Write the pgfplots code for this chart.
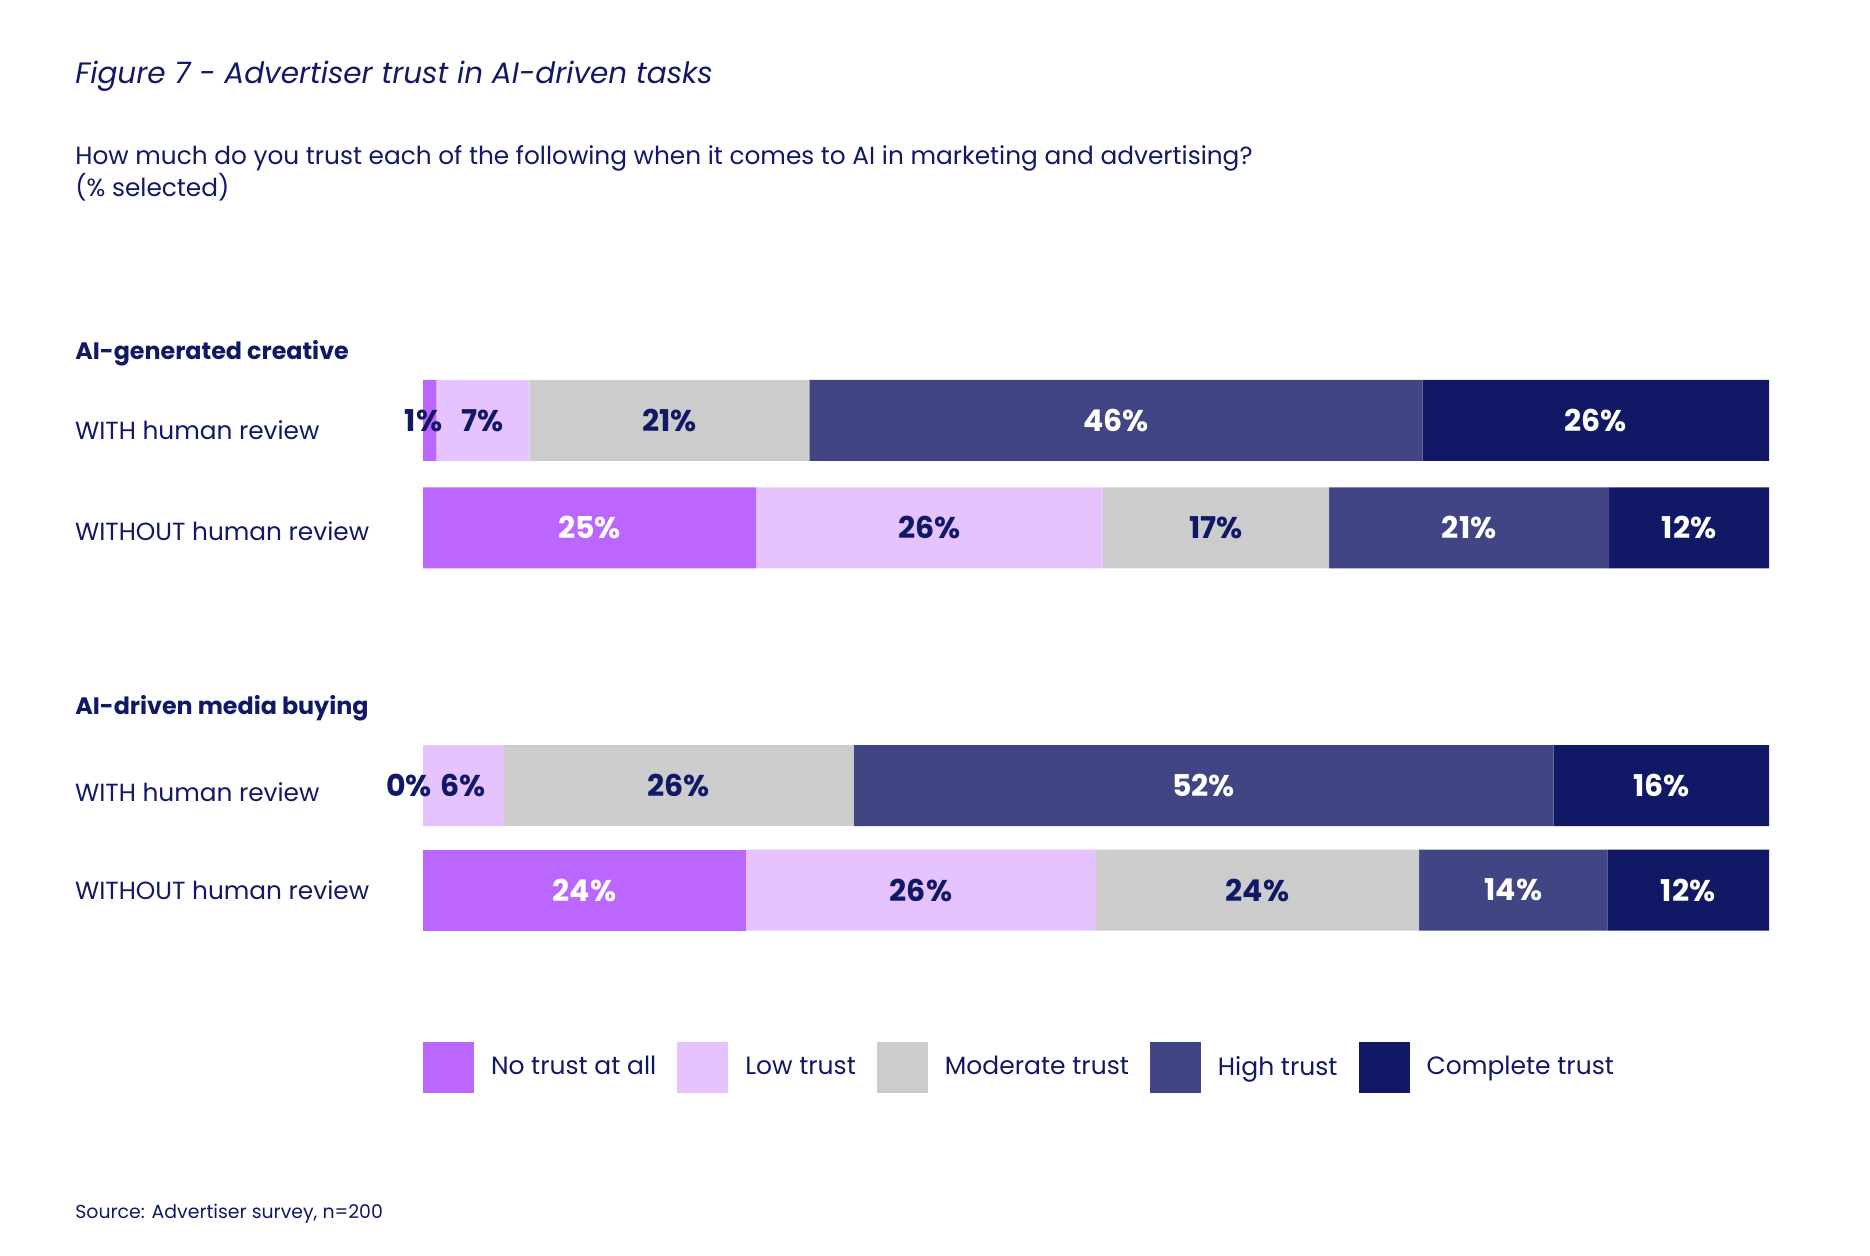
\documentclass[border=0pt]{standalone}
\usepackage{pgfplots}
\pgfplotsset{compat=1.18}
\usepackage{pgfplotstable}
\usepackage{fontspec}
\setmainfont{Poppins}

\definecolor{navy}{HTML}{111866}
\definecolor{notrust}{HTML}{BB66FF}
\definecolor{lowtrust}{HTML}{E6C3FF}
\definecolor{modtrust}{HTML}{CCCCCC}
\definecolor{hightrust}{HTML}{414583}
\definecolor{fulltrust}{HTML}{111866}

\newcommand{\bodyfont}{\fontsize{12.4}{16}\selectfont}

% share of respondents (%) per trust level
\pgfplotstableread{
row none low moderate high complete
0   1    7   21       46   26
1   25   26  17       21   12
}\creative
\pgfplotstableread{
row none low moderate high complete
0   0    6   26       52   16
1   24   26  24       14   12
}\media

% common frame of one group; #1 = row total (right end of the bars)
\pgfplotsset{
  trustframe/.style={
    scale only axis, width=673pt,
    xmin=0, xmax=#1, y dir=reverse, ymin=-0.5, ymax=1.5,
    clip=false,
  },
  trustbars/.style={
    trustframe=#1, xbar stacked, bar width=40.5pt,
    axis line style={draw=none}, major tick length=0pt,
    xtick=\empty, ytick={0,1},
    yticklabels={\raisebox{-1.6pt}{WITH human review}, \raisebox{1.6pt}{WITHOUT human review}},
    yticklabel style={anchor=base west, xshift=-177.5pt, yshift=-8.1pt,
      text=navy, font=\bodyfont},
  },
  trustlabels/.style={
    trustframe=#1, hide axis,
    point meta=explicit symbolic,
    nodes near coords={\pgfplotspointmeta\%},
    every node near coord/.append style={anchor=center, inner sep=0pt,
      font=\fontsize{15}{18}\selectfont\bfseries},
  },
}
% one stacked segment: column, fill, table
\newcommand{\trustseg}[3]{%
  \addplot[fill=#2, draw=none] table[x=#1, y=row]{#3};}
% value label centred on a segment: column, centre position, text colour, table
\newcommand{\seglabel}[4]{%
  \addplot[draw=none, mark=none, every node near coord/.append style={text=#3}]
    table[x expr={#2}, y=row, meta=#1]{#4};}
% the first segment can be too narrow for its label: set it dark and shift it left
\newcommand{\nonelabel}[1]{%
  \addplot[draw=none, mark=none,
    every node near coord/.append style={text=white},
    every node near coord/.append code={%
      \ifdim\pgfplotspointmeta pt<3pt\pgfkeysalso{text=navy, xshift=-3pt}\fi
      \ifdim\pgfplotspointmeta pt<0.5pt\pgfkeysalso{xshift=-4pt}\fi}]
    table[x expr={0.5*\thisrow{none}}, y=row, meta=none]{#1};}
\newcommand{\grouplabels}[1]{%
  \nonelabel{#1}
  \seglabel{low}{\thisrow{none}+0.5*\thisrow{low}}{navy}{#1}
  \seglabel{moderate}{\thisrow{none}+\thisrow{low}+0.5*\thisrow{moderate}}{navy}{#1}
  \seglabel{high}{\thisrow{none}+\thisrow{low}+\thisrow{moderate}+0.5*\thisrow{high}}{white}{#1}
  \seglabel{complete}{\thisrow{none}+\thisrow{low}+\thisrow{moderate}+\thisrow{high}+0.5*\thisrow{complete}}{white}{#1}}

\begin{document}
\begin{tikzpicture}
\path[use as bounding box] (0,0) rectangle (935pt,-628pt);

\node[anchor=base west, text=navy, inner sep=0pt, font=\fontsize{14.75}{18}\selectfont\itshape]
  at (37.5pt,-42pt) {Figure 7 - Advertiser trust in AI-driven tasks};
\node[anchor=base west, text=navy, align=left, inner sep=0pt, font=\bodyfont]
  at (37.5pt,-98.5pt) {How much do you trust each of the following when it comes to AI in marketing and advertising?\\(\% selected)};
\node[anchor=base west, text=navy, inner sep=0pt, font=\fontsize{11.9}{14}\selectfont\bfseries]
  at (37.5pt,-180pt) {AI-generated creative};
\node[anchor=base west, text=navy, inner sep=0pt, font=\fontsize{11.9}{14}\selectfont\bfseries]
  at (37.5pt,-357.5pt) {AI-driven media buying};
\node[anchor=base west, text=navy, inner sep=0pt, font=\fontsize{9.45}{11}\selectfont]
  at (37.5pt,-609pt) {Source: Advertiser survey, n=200};

% AI-generated creative
\begin{axis}[trustbars=101, height=107.5pt, at={(211.5pt,-237.1pt)}, anchor=west]
  \trustseg{none}{notrust}{\creative}
  \trustseg{low}{lowtrust}{\creative}
  \trustseg{moderate}{modtrust}{\creative}
  \trustseg{high}{hightrust}{\creative}
  \trustseg{complete}{fulltrust}{\creative}
\end{axis}
\begin{axis}[trustlabels=101, height=107.5pt, at={(211.5pt,-237.1pt)}, anchor=west]
  \grouplabels{\creative}
\end{axis}

% AI-driven media buying
\begin{axis}[trustbars=100, height=104.5pt, at={(211.5pt,-418.9pt)}, anchor=west,
  yticklabel style={yshift=1.8pt},
  legend columns=5,
  legend image code/.code={\fill[#1] (0pt,-12.75pt) rectangle (25.5pt,12.75pt);},
  legend style={at={(0,-0.5967)}, anchor=west, draw=none, fill=none,
    inner sep=0pt, outer sep=0pt,
    /tikz/every odd column/.style={column sep=8.5pt},
    /tikz/every even column/.style={column sep=10.5pt},
    nodes={inner sep=0pt, text=navy, font=\fontsize{12.5}{16}\selectfont}},
  legend cell align=left]
  \trustseg{none}{notrust}{\media}
  \trustseg{low}{lowtrust}{\media}
  \trustseg{moderate}{modtrust}{\media}
  \trustseg{high}{hightrust}{\media}
  \trustseg{complete}{fulltrust}{\media}
  \legend{No trust at all, Low trust, Moderate trust, High trust, Complete trust}
\end{axis}
\begin{axis}[trustlabels=100, height=104.5pt, at={(211.5pt,-418.9pt)}, anchor=west]
  \grouplabels{\media}
\end{axis}
\end{tikzpicture}
\end{document}
